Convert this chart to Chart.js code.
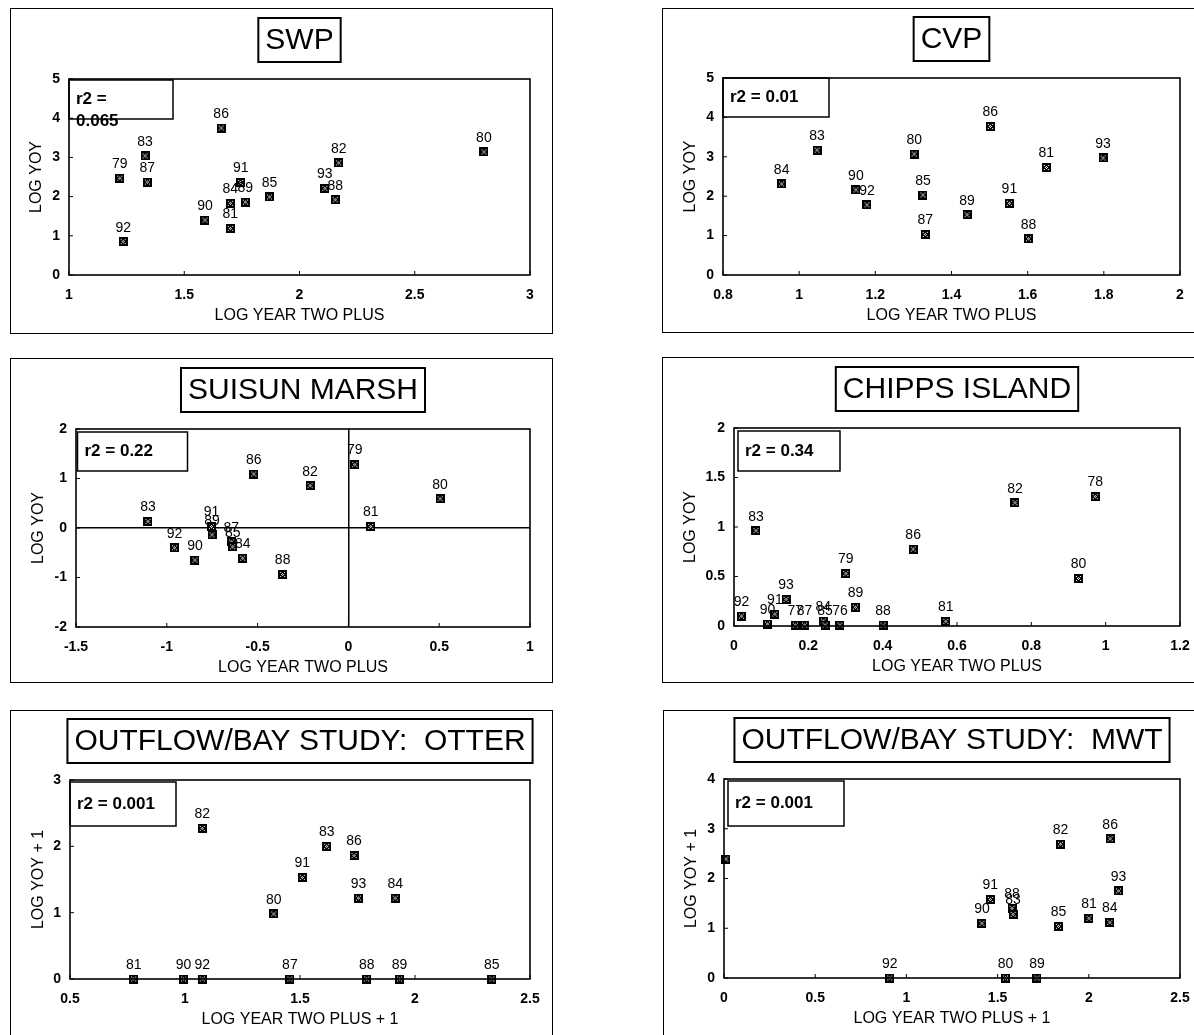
<!DOCTYPE html>
<html>
<head>
<meta charset="utf-8">
<title>LOG YOY vs LOG YEAR TWO PLUS</title>
<script src="https://cdn.jsdelivr.net/npm/chart.js@4.4.0/dist/chart.umd.min.js"></script>
<style>
  html, body { margin: 0; padding: 0; background: #fff; overflow: hidden; width: 1194px; height: 1035px; }
  .frame { position: absolute; border: 1.5px solid #000; box-sizing: border-box; }
  canvas.panel { position: absolute; }
</style>
</head>
<body>
<script>
// ---- data ----
var swpYears = ['79', '83', '87', '92', '86', '90', '81', '84', '91', '89', '85', '93', '88', '82', '80'];
var swpX = [1.22, 1.33, 1.34, 1.235, 1.66, 1.59, 1.70, 1.70, 1.745, 1.765, 1.87, 2.11, 2.155, 2.17, 2.80];
var swpY = [2.47, 3.04, 2.37, 0.85, 3.75, 1.40, 1.19, 1.83, 2.36, 1.86, 1.99, 2.21, 1.92, 2.86, 3.14];

var cvpYears = ['84', '83', '90', '92', '80', '85', '87', '89', '86', '91', '88', '81', '93'];
var cvpX = [0.954, 1.047, 1.149, 1.178, 1.302, 1.325, 1.331, 1.441, 1.502, 1.552, 1.602, 1.649, 1.798];
var cvpY = [2.31, 3.17, 2.16, 1.78, 3.07, 2.03, 1.03, 1.53, 3.77, 1.82, 0.92, 2.73, 2.97];

var suisunYears = ['83', '92', '90', '91', '89', '87', '85', '84', '86', '82', '88', '79', '81', '80'];
var suisunX = [-1.104, -0.958, -0.845, -0.754, -0.751, -0.645, -0.637, -0.582, -0.521, -0.211, -0.362, 0.035, 0.123, 0.505];
var suisunY = [0.135, -0.40, -0.65, 0.03, -0.14, -0.28, -0.38, -0.61, 1.09, 0.855, -0.94, 1.28, 0.03, 0.59];

var chippsYears = ['92', '83', '93', '91', '90', '77', '87', '84', '85', '76', '79', '89', '88', '86', '81', '82', '78', '80'];
var chippsX = [0.02, 0.059, 0.14, 0.11, 0.09, 0.165, 0.19, 0.24, 0.245, 0.285, 0.301, 0.327, 0.401, 0.482, 0.570, 0.756, 0.972, 0.927];
var chippsY = [0.10, 0.963, 0.27, 0.12, 0.02, 0.01, 0.01, 0.05, 0.01, 0.01, 0.53, 0.19, 0.01, 0.777, 0.047, 1.245, 1.307, 0.48];

var otterYears = ['82', '80', '91', '83', '86', '93', '84', '81', '90', '92', '87', '88', '89', '85'];
var otterX = [1.075, 1.386, 1.510, 1.616, 1.735, 1.754, 1.914, 0.777, 0.994, 1.075, 1.456, 1.790, 1.933, 2.334];
var otterY = [2.27, 0.98, 1.53, 2.00, 1.86, 1.22, 1.22, 0, 0, 0, 0, 0, 0, 0];

var mwtYears = ['', '92', '90', '91', '88', '83', '80', '89', '85', '82', '81', '84', '86', '93'];
var mwtX = [0.01, 0.909, 1.414, 1.46, 1.579, 1.585, 1.543, 1.716, 1.834, 1.845, 2.001, 2.115, 2.117, 2.163];
var mwtY = [2.39, 0, 1.10, 1.58, 1.40, 1.28, 0, 0, 1.04, 2.69, 1.20, 1.12, 2.80, 1.75];

// tick values
var swpXTicks = [1, 1.5, 2, 2.5, 3];
var swpYTicks = [0, 1, 2, 3, 4, 5];
var cvpXTicks = [0.8, 1, 1.2, 1.4, 1.6, 1.8, 2];
var cvpYTicks = [0, 1, 2, 3, 4, 5];
var suisunXTicks = [-1.5, -1, -0.5, 0, 0.5, 1];
var suisunYTicks = [-2, -1, 0, 1, 2];
var chippsXTicks = [0, 0.2, 0.4, 0.6, 0.8, 1, 1.2];
var chippsYTicks = [0, 0.5, 1, 1.5, 2];
var otterXTicks = [0.5, 1, 1.5, 2, 2.5];
var otterYTicks = [0, 1, 2, 3];
var mwtXTicks = [0, 0.5, 1, 1.5, 2, 2.5];
var mwtYTicks = [0, 1, 2, 3, 4];

var titles = ['SWP', 'CVP', 'SUISUN MARSH', 'CHIPPS ISLAND', 'OUTFLOW/BAY STUDY:  OTTER', 'OUTFLOW/BAY STUDY:  MWT'];
var r2Text = [['r2 =', '0.065'], ['r2 = 0.01'], ['r2 = 0.22'], ['r2 = 0.34'], ['r2 = 0.001'], ['r2 = 0.001']];
var xTitles = ['LOG YEAR TWO PLUS', 'LOG YEAR TWO PLUS', 'LOG YEAR TWO PLUS', 'LOG YEAR TWO PLUS', 'LOG YEAR TWO PLUS + 1', 'LOG YEAR TWO PLUS + 1'];
var yTitles = ['LOG YOY', 'LOG YOY', 'LOG YOY', 'LOG YOY', 'LOG YOY + 1', 'LOG YOY + 1'];

// ---- layout (page pixels) ----
var frames = [[10, 8, 543, 326], [662, 8, 540, 325], [10, 358, 543, 325], [662, 357, 540, 326], [10, 710, 543, 340], [663, 710, 540, 340]];
var plots = [[69, 79, 530, 275], [723, 78, 1180, 275], [76, 429, 530, 627], [734, 428, 1180, 626], [70, 780, 530, 979], [724, 779, 1180, 978]];
var yTitleX = [36.6, 690.5, 38.4, 691, 39, 691.5];
var r2Boxes = [[0, 1, 104, 39], [0, 0, 106, 39], [1.5, 3, 110, 39], [4, 3, 102, 40], [0, 2, 106, 44], [4, 2, 116, 45]];

var FONT = "'Liberation Sans', Arial, Helvetica, sans-serif";

// dark square marker with a faint X of white specks (as in the scan)
function makeMarker() {
  var c = document.createElement('canvas');
  c.width = 9; c.height = 9;
  var g = c.getContext('2d');
  g.fillStyle = '#000';
  g.fillRect(0, 0, 9, 9);
  g.fillStyle = '#fff';
  g.fillRect(2, 2, 1, 1); g.fillRect(6, 2, 1, 1);
  g.fillRect(2, 6, 1, 1); g.fillRect(6, 6, 1, 1);
  g.fillRect(4, 3, 1, 1); g.fillRect(3, 4, 1, 1);
  g.fillRect(5, 4, 1, 1); g.fillRect(4, 5, 1, 1);
  return c;
}
var marker = makeMarker();

// frame, inward ticks, title box, r2 box, point labels
var decor = {
  id: 'decor',
  afterDatasetsDraw: function(chart) {
    var ctx = chart.ctx;
    var a = chart.chartArea;
    var p = chart.options.plugins.decor;
    ctx.save();
    ctx.strokeStyle = '#000';
    ctx.fillStyle = '#000';

    ctx.lineWidth = 1.6;
    ctx.strokeRect(a.left, a.top, a.right - a.left, a.bottom - a.top);

    ctx.lineWidth = 1;
    ctx.beginPath();
    chart.scales.x.ticks.forEach(function(t) {
      var px = chart.scales.x.getPixelForValue(t.value);
      ctx.moveTo(px, a.bottom); ctx.lineTo(px, a.bottom - 4);
    });
    chart.scales.y.ticks.forEach(function(t) {
      var py = chart.scales.y.getPixelForValue(t.value);
      ctx.moveTo(a.left, py); ctx.lineTo(a.left + 4, py);
    });
    ctx.stroke();

    // title box
    ctx.font = '30px ' + FONT;
    ctx.textAlign = 'center';
    ctx.textBaseline = 'middle';
    var tw = ctx.measureText(p.title).width;
    var cx = (a.left + a.right) / 2;
    var cy = a.top - 39;
    ctx.lineWidth = 2;
    ctx.strokeRect(cx - tw / 2 - 7, cy - 22, tw + 14, 44);
    ctx.fillText(p.title, cx, cy + 1);

    // r2 box
    var b = p.r2Box;
    ctx.lineWidth = 1.5;
    ctx.strokeRect(a.left + b[0], a.top + b[1], b[2], b[3]);
    ctx.font = 'bold 17px ' + FONT;
    ctx.textAlign = 'left';
    p.r2.forEach(function(line, i) {
      ctx.fillText(line, a.left + b[0] + 7, a.top + b[1] + b[3] / 2 + i * 22);
    });

    // year labels above points
    ctx.font = '14px ' + FONT;
    ctx.textAlign = 'center';
    var meta = chart.getDatasetMeta(0);
    meta.data.forEach(function(el, i) {
      ctx.fillText(p.labels[i], el.x, el.y - 14);
    });
    ctx.restore();
  }
};

var panels = [
  { years: swpYears, xs: swpX, ys: swpY, xTicks: swpXTicks, yTicks: swpYTicks, zero: false },
  { years: cvpYears, xs: cvpX, ys: cvpY, xTicks: cvpXTicks, yTicks: cvpYTicks, zero: false },
  { years: suisunYears, xs: suisunX, ys: suisunY, xTicks: suisunXTicks, yTicks: suisunYTicks, zero: true },
  { years: chippsYears, xs: chippsX, ys: chippsY, xTicks: chippsXTicks, yTicks: chippsYTicks, zero: false },
  { years: otterYears, xs: otterX, ys: otterY, xTicks: otterXTicks, yTicks: otterYTicks, zero: false },
  { years: mwtYears, xs: mwtX, ys: mwtY, xTicks: mwtXTicks, yTicks: mwtYTicks, zero: false }
];

function zeroColor(ctx) {
  return ctx.tick && ctx.tick.value === 0 ? '#000' : 'rgba(0,0,0,0)';
}

panels.forEach(function(pn, k) {
  var f = frames[k], pl = plots[k];
  var box = document.createElement('div');
  box.className = 'frame';
  box.style.left = f[0] + 'px'; box.style.top = f[1] + 'px';
  box.style.width = f[2] + 'px'; box.style.height = f[3] + 'px';
  document.body.appendChild(box);

  var cv = document.createElement('canvas');
  cv.className = 'panel';
  cv.width = f[2]; cv.height = f[3];
  cv.style.left = f[0] + 'px'; cv.style.top = f[1] + 'px';
  document.body.appendChild(cv);

  var yLeft = yTitleX[k] - 9.6;
  var yWidth = pl[0] - yLeft;
  var xHeight = 50;

  var pts = pn.xs.map(function(x, i) { return { x: x, y: pn.ys[i] }; });
  var xt = pn.xTicks, yt = pn.yTicks;

  new Chart(cv, {
    type: 'scatter',
    data: { datasets: [{ data: pts, pointStyle: marker, pointRadius: 4.5, clip: false }] },
    plugins: [decor],
    options: {
      responsive: false,
      animation: false,
      layout: { padding: {
        left: yLeft - f[0],
        top: pl[1] - f[1],
        right: f[0] + f[2] - pl[2],
        bottom: f[1] + f[3] - pl[3] - xHeight
      } },
      plugins: {
        legend: { display: false },
        tooltip: { enabled: false },
        decor: { title: titles[k], r2: r2Text[k], r2Box: r2Boxes[k], labels: pn.years }
      },
      scales: {
        x: {
          type: 'linear', min: xt[0], max: xt[xt.length - 1],
          border: { display: false },
          grid: { display: pn.zero, drawTicks: false, color: zeroColor, lineWidth: 1.5 },
          ticks: { autoSkip: false, padding: 12, color: '#000', font: { family: FONT, size: 14, weight: 'bold' },
                   callback: function(v) { return String(v); } },
          title: { display: true, text: xTitles[k], color: '#000', padding: 0, font: { family: FONT, size: 16 } },
          afterBuildTicks: function(s) { s.ticks = xt.map(function(v) { return { value: v }; }); },
          afterFit: function(s) { s.height = xHeight; }
        },
        y: {
          type: 'linear', min: yt[0], max: yt[yt.length - 1],
          border: { display: false },
          grid: { display: pn.zero, drawTicks: false, color: zeroColor, lineWidth: 1.5 },
          ticks: { autoSkip: false, padding: 9, color: '#000', font: { family: FONT, size: 14, weight: 'bold' },
                   callback: function(v) { return String(v); } },
          title: { display: true, text: yTitles[k], color: '#000', padding: 0, font: { family: FONT, size: 16 } },
          afterBuildTicks: function(s) { s.ticks = yt.map(function(v) { return { value: v }; }); },
          afterFit: function(s) { s.width = yWidth; }
        }
      }
    }
  });
});
</script>
</body>
</html>
